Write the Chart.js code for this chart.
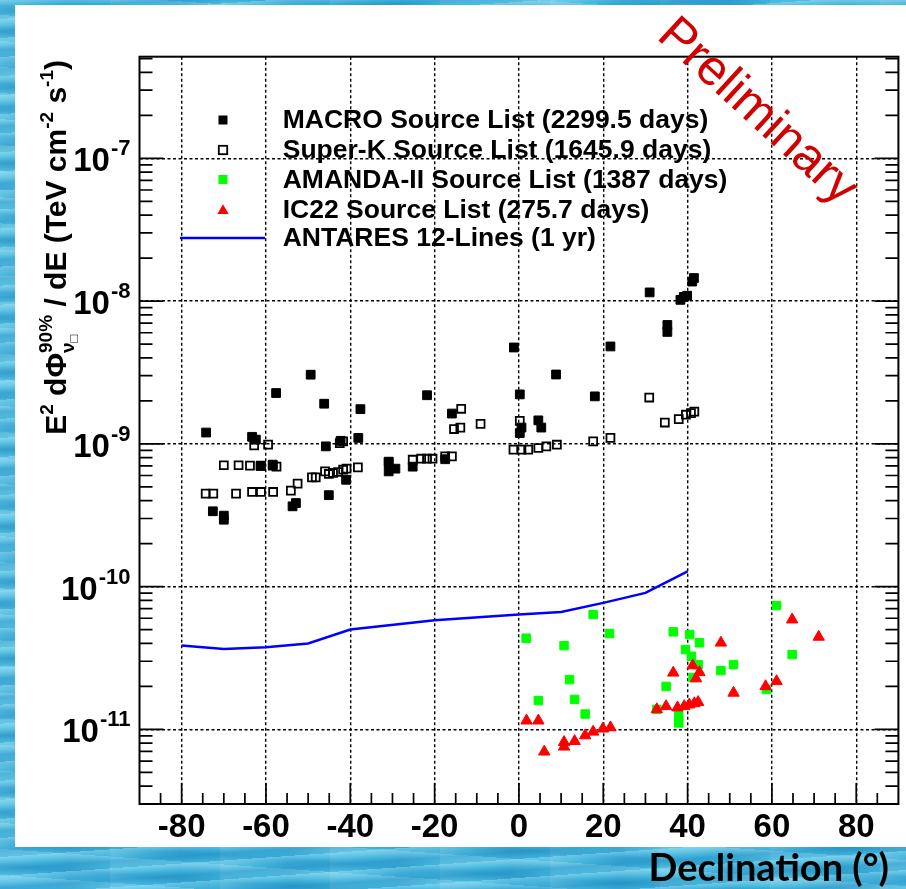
<!DOCTYPE html>
<html>
<head>
<meta charset="utf-8">
<script src="https://cdn.jsdelivr.net/npm/chart.js@4.4.1/dist/chart.umd.min.js"></script>
<style>
  html, body { margin: 0; padding: 0; }
  body {
    width: 906px; height: 889px; overflow: hidden; position: relative;
    background:
      repeating-linear-gradient(176deg, rgba(170,235,252,0.40) 0px, rgba(170,235,252,0) 7px, rgba(10,120,185,0.28) 12px, rgba(170,235,252,0) 19px),
      repeating-linear-gradient(184deg, rgba(255,255,255,0.20) 0px, rgba(255,255,255,0) 10px, rgba(0,100,165,0.20) 17px, rgba(255,255,255,0) 26px),
      repeating-linear-gradient(90deg, rgba(255,255,255,0.10) 0px, rgba(255,255,255,0) 40px, rgba(0,90,160,0.10) 70px, rgba(255,255,255,0) 110px),
      #45b8de;
  }
  #panel { position: absolute; left: 15px; top: 5px; width: 891px; height: 842px; background: #fff; }
  #c { position: absolute; left: 0; top: 0; }
  #xtitle {
    position: absolute; right: 17px; top: 847px; margin: 0;
    font: bold 38px Lato, "Open Sans", sans-serif; line-height: 38px; color: #000; white-space: nowrap;
  }
</style>
</head>
<body>
<div id="panel"></div>
<canvas id="c" width="906" height="889"></canvas>
<div id="xtitle">Declination (°)</div>
<script>
// ---- axis ranges and ticks ----
const X_MIN = -90, X_MAX = 90;
const Y_MIN = 3.0e-12, Y_MAX = 5.15e-7;
const xTickValues = [-80, -60, -40, -20, 0, 20, 40, 60, 80];
const yDecadeExponents = [-11, -10, -9, -8, -7];

// ---- MACRO source list (declination in degrees, E^2 dPhi/dE upper limit) ----
const macroDec = [-74.2, -63.3, -62.4, -57.6, -49.4, -46.2, -37.6, -21.8, -1.2, 0.2,
  -45.8, -42.3, -38.1, -15.9, 0.6, 0.2, -61.3, -58.4, -41.0, -45.1,
  -53.7, -52.9, -72.6, -70.0, -70.0, -30.9, -30.9, -29.3, -25.2, -17.5,
  8.8, 18.0, 21.7, 31.0, 35.2, 35.2, 38.3, 39.1, 39.9, 41.1, 41.5, 4.6, 5.3];
const macroFlux = [1.20e-9, 1.12e-9, 1.07e-9, 2.27e-9, 3.05e-9, 1.91e-9, 1.75e-9, 2.19e-9, 4.73e-9, 2.22e-9,
  9.6e-10, 1.05e-9, 1.10e-9, 1.63e-9, 1.30e-9, 1.19e-9, 7.0e-10, 7.15e-10, 5.6e-10, 4.37e-10,
  3.65e-10, 3.85e-10, 3.37e-10, 3.14e-10, 2.94e-10, 7.5e-10, 6.41e-10, 6.7e-10, 6.92e-10, 7.8e-10,
  3.06e-9, 2.15e-9, 4.81e-9, 1.15e-8, 6.8e-9, 6.08e-9, 1.02e-8, 1.07e-8, 1.09e-8, 1.37e-8, 1.45e-8, 1.46e-9, 1.30e-9];

// ---- Super-K source list ----
const superkDec = [-62.8, -59.5, -70.0, -66.5, -63.8, -61.2, -58.4, -57.5, -74.3, -72.5,
  -67.1, -63.3, -61.2, -58.3, -54.1, -52.5, -49.1, -48.2, -46.0, -45.1,
  -44.1, -42.9, -41.7, -40.9, -42.5, -41.7, -38.2, -30.9, -25.2, -23.2,
  -21.8, -20.5, -17.5, -15.9, -15.4, -13.9, -13.7, -9.1, 0.2, -1.3,
  0.6, 2.2, 4.6, 6.5, 9.0, 17.6, 21.7, 30.9, 34.6, 37.9, 39.6, 40.8, 41.6];
const superkFlux = [9.75e-10, 9.87e-10, 7.08e-10, 7.08e-10, 7.03e-10, 7.03e-10, 7.03e-10, 6.92e-10, 4.48e-10, 4.48e-10,
  4.48e-10, 4.6e-10, 4.6e-10, 4.6e-10, 4.70e-10, 5.26e-10, 5.82e-10, 5.82e-10, 6.41e-10, 6.15e-10,
  6.25e-10, 6.35e-10, 6.59e-10, 6.70e-10, 1.01e-9, 1.04e-9, 6.84e-10, 7.41e-10, 7.74e-10, 7.87e-10,
  7.87e-10, 7.87e-10, 8.17e-10, 8.17e-10, 1.27e-9, 1.30e-9, 1.76e-9, 1.38e-9, 1.45e-9, 9.1e-10,
  9.1e-10, 9.1e-10, 9.35e-10, 9.6e-10, 9.86e-10, 1.04e-9, 1.10e-9, 2.11e-9, 1.41e-9, 1.49e-9, 1.60e-9, 1.64e-9, 1.68e-9];

// ---- AMANDA-II source list ----
const amandaDec = [1.7, 10.7, 17.6, 21.5, 12.0, 4.6, 13.2, 15.7, 36.6, 40.5,
  42.8, 39.5, 40.9, 42.5, 41.3, 34.9, 32.7, 37.9, 37.9, 47.9, 50.9, 61.1, 64.8, 58.7];
const amandaFlux = [4.35e-11, 3.86e-11, 6.37e-11, 4.69e-11, 2.23e-11, 1.59e-11, 1.62e-11, 1.28e-11, 4.82e-11, 4.61e-11,
  4.04e-11, 3.62e-11, 3.25e-11, 2.84e-11, 2.31e-11, 2.0e-11, 1.38e-11, 1.25e-11, 1.11e-11, 2.58e-11, 2.84e-11, 7.36e-11, 3.34e-11, 1.90e-11];

// ---- IC22 source list ----
const ic22Dec = [1.8, 4.6, 6.0, 10.7, 10.7, 13.2, 15.7, 17.6, 19.9, 21.7,
  32.7, 34.9, 36.6, 37.6, 39.2, 40.4, 41.6, 42.5, 41.2, 42.8,
  42.0, 47.9, 50.9, 58.5, 61.1, 64.8, 71.1];
const ic22Flux = [1.15e-11, 1.15e-11, 6.97e-12, 8.13e-12, 7.55e-12, 8.26e-12, 9.05e-12, 9.61e-12, 1.01e-11, 1.03e-11,
  1.38e-11, 1.45e-11, 2.49e-11, 1.42e-11, 1.45e-11, 1.49e-11, 1.52e-11, 1.55e-11, 2.80e-11, 2.51e-11,
  2.27e-11, 4.04e-11, 1.80e-11, 2.00e-11, 2.17e-11, 5.87e-11, 4.44e-11];

// ---- ANTARES 12-line sensitivity curve ----
const antaresDec = [-80, -70, -60, -50, -40, -20, 0, 10, 20, 30, 40];
const antaresFlux = [3.86e-11, 3.66e-11, 3.76e-11, 3.99e-11, 5.0e-11, 5.81e-11, 6.37e-11, 6.65e-11, 7.69e-11, 9.03e-11, 1.28e-10];

// ---- texts ----
const seriesLabels = [
  'MACRO Source List (2299.5 days)',
  'Super-K Source List (1645.9 days)',
  'AMANDA-II Source List (1387 days)',
  'IC22 Source List (275.7 days)',
  'ANTARES 12-Lines (1 yr)'
];
const watermark = 'Preliminary';

const FONT = '"Liberation Sans", Arial, Helvetica, sans-serif';
const pairs = (xs, ys) => xs.map((v, i) => ({ x: v, y: ys[i] }));

// y axis title, written piece by piece (base text, superscripts, subscripts)
const yTitleRuns = [
  { t: 'E', k: 'big' },
  { t: '2', k: 'sup' },
  { t: ' d', k: 'big' },
  { t: 'Φ', k: 'big' },
  { stack: { sup: '90%', sub: 'ν', subsub: '□' } },
  { t: ' / dE (TeV cm', k: 'big' },
  { t: '-2', k: 'sup' },
  { t: ' s', k: 'big' },
  { t: '-1', k: 'sup' },
  { t: ')', k: 'big' }
];

// legend marker look (slightly smaller than the plotted markers)
const legendMarks = [
  { kind: 'rect', half: 4, fill: '#000', stroke: '#000', lw: 1 },
  { kind: 'rect', half: 4.2, fill: null, stroke: '#000', lw: 1.8 },
  { kind: 'rect', half: 4, fill: '#00ff00', stroke: '#00ff00', lw: 1 },
  { kind: 'tri', r: 6.5, fill: '#ff0000' },
  { kind: 'line', stroke: '#0000ff', lw: 2.5 }
];

const overlay = {
  id: 'overlay',
  afterDraw(chart) {
    const { ctx, chartArea: a, scales: { x, y } } = chart;
    ctx.save();

    // plot frame
    ctx.strokeStyle = '#000';
    ctx.lineWidth = 2;
    ctx.strokeRect(a.left, a.top, a.right - a.left, a.bottom - a.top);

    // inward ticks: log minor/major on left and right, 5-degree steps on bottom
    ctx.lineWidth = 1.7;
    ctx.beginPath();
    for (let e = -12; e <= -7; e++) {
      for (let m = 1; m <= 9; m++) {
        const v = m * Math.pow(10, e);
        if (v < Y_MIN * 0.999 || v > Y_MAX) continue;
        const py = y.getPixelForValue(v);
        const len = m === 1 ? 24 : 13;
        ctx.moveTo(a.left, py); ctx.lineTo(a.left + len, py);
        ctx.moveTo(a.right, py); ctx.lineTo(a.right - len, py);
      }
    }
    for (let v = -85; v <= 85; v += 5) {
      const px = x.getPixelForValue(v);
      const len = (v % 20 === 0) ? 21 : 11;
      ctx.moveTo(px, a.bottom); ctx.lineTo(px, a.bottom - len);
    }
    ctx.stroke();

    // y tick labels: 10 with a raised exponent
    ctx.fillStyle = '#000';
    ctx.textBaseline = 'middle';
    const labelRight = a.left - 9;
    yDecadeExponents.forEach(e => {
      const py = y.getPixelForValue(Math.pow(10, e));
      const expo = String(e);
      ctx.font = 'bold 22px ' + FONT;
      const ew = ctx.measureText(expo).width;
      ctx.textAlign = 'right';
      ctx.fillText(expo, labelRight, py - 9);
      ctx.font = 'bold 33px ' + FONT;
      ctx.fillText('10', labelRight - ew - 1, py + 4);
    });

    // y axis title, rotated, reading upwards and ending near the top of the frame
    const fonts = { big: 'bold 30px ' + FONT, sup: 'bold 19px ' + FONT, tiny: '13px ' + FONT };
    const shift = { big: 0, sup: -13 };
    const widthOf = (r) => {
      if (r.stack) {
        ctx.font = fonts.sup; const w1 = ctx.measureText(r.stack.sup).width;
        const w2 = ctx.measureText(r.stack.sub).width;
        ctx.font = fonts.tiny; const w3 = ctx.measureText(r.stack.subsub).width;
        return Math.max(w1, w2 + w3);
      }
      ctx.font = fonts[r.k]; return ctx.measureText(r.t).width;
    };
    const total = yTitleRuns.reduce((s, r) => s + widthOf(r), 0);
    const titleTop = 60;
    ctx.save();
    ctx.translate(66, titleTop + total);
    ctx.rotate(-Math.PI / 2);
    ctx.textAlign = 'left';
    ctx.textBaseline = 'alphabetic';
    let cx = 0;
    yTitleRuns.forEach(r => {
      const w = widthOf(r);
      if (r.stack) {
        ctx.font = fonts.sup;
        ctx.fillText(r.stack.sup, cx, -14);
        ctx.fillText(r.stack.sub, cx, 8);
        const w2 = ctx.measureText(r.stack.sub).width;
        ctx.font = fonts.tiny;
        ctx.fillText(r.stack.subsub, cx + w2, 12);
      } else {
        ctx.font = fonts[r.k];
        ctx.fillText(r.t, cx, shift[r.k]);
      }
      cx += w;
    });
    ctx.restore();

    // legend inside the frame
    const legendRows = [120, 150, 179.5, 209.3, 238];
    const markX = 223, textX = 282.7;
    chart.data.datasets.forEach((ds, i) => {
      const ly = legendRows[i];
      const m = legendMarks[i];
      ctx.save();
      if (m.kind === 'line') {
        ctx.strokeStyle = m.stroke; ctx.lineWidth = m.lw;
        ctx.beginPath(); ctx.moveTo(180, ly); ctx.lineTo(265, ly); ctx.stroke();
      } else if (m.kind === 'tri') {
        ctx.fillStyle = m.fill;
        ctx.beginPath();
        ctx.moveTo(markX, ly - m.r + 1.5);
        ctx.lineTo(markX + m.r * 0.866, ly + m.r * 0.5 + 1.5);
        ctx.lineTo(markX - m.r * 0.866, ly + m.r * 0.5 + 1.5);
        ctx.closePath(); ctx.fill();
      } else {
        if (m.fill) { ctx.fillStyle = m.fill; ctx.fillRect(markX - m.half, ly - m.half, 2 * m.half, 2 * m.half); }
        ctx.strokeStyle = m.stroke; ctx.lineWidth = m.lw;
        ctx.strokeRect(markX - m.half, ly - m.half, 2 * m.half, 2 * m.half);
      }
      ctx.restore();
      ctx.fillStyle = '#000';
      ctx.font = 'bold 26.5px ' + FONT;
      ctx.textAlign = 'left';
      ctx.textBaseline = 'middle';
      ctx.fillText(ds.label, textX, ly + 1);
    });

    // watermark
    ctx.save();
    ctx.translate(757, 112);
    ctx.rotate(42.5 * Math.PI / 180);
    ctx.fillStyle = '#d20000';
    ctx.font = '50px ' + FONT;
    ctx.textAlign = 'center';
    ctx.textBaseline = 'middle';
    ctx.fillText(watermark, 0, 0);
    ctx.restore();

    ctx.restore();
  }
};

new Chart(document.getElementById('c'), {
  type: 'scatter',
  data: {
    datasets: [
      { label: seriesLabels[0], data: pairs(macroDec, macroFlux), order: 4,
        pointStyle: 'rect', pointRadius: 6.2, backgroundColor: '#000', borderColor: '#000', borderWidth: 1 },
      { label: seriesLabels[1], data: pairs(superkDec, superkFlux), order: 3,
        pointStyle: 'rect', pointRadius: 5.6, backgroundColor: 'rgba(0,0,0,0)', borderColor: '#000', borderWidth: 1.8 },
      { label: seriesLabels[2], data: pairs(amandaDec, amandaFlux), order: 2,
        pointStyle: 'rect', pointRadius: 6.0, backgroundColor: '#00ff00', borderColor: '#00ff00', borderWidth: 1 },
      { label: seriesLabels[3], data: pairs(ic22Dec, ic22Flux), order: 1,
        pointStyle: 'triangle', pointRadius: 6.6, backgroundColor: '#ff0000', borderColor: '#ff0000', borderWidth: 1 },
      { label: seriesLabels[4], data: pairs(antaresDec, antaresFlux), order: 5, showLine: true,
        pointRadius: 0, borderColor: '#0000ff', borderWidth: 2.5, backgroundColor: '#0000ff', tension: 0 }
    ]
  },
  options: {
    responsive: false,
    animation: false,
    events: [],
    layout: { padding: { left: 0, right: 4.5, top: 56.7, bottom: 0 } },
    plugins: { legend: { display: false }, tooltip: { enabled: false } },
    scales: {
      x: {
        type: 'linear', min: X_MIN, max: X_MAX,
        afterBuildTicks: (s) => { s.ticks = xTickValues.map(v => ({ value: v })); },
        afterFit: (s) => { s.height = 85; },
        grid: { color: '#000', lineWidth: 1.4, drawTicks: false },
        border: { display: false, dash: [3, 2.5] },
        ticks: {
          padding: 4, color: '#000', maxRotation: 0, autoSkip: false,
          font: { family: FONT, size: 33, weight: 'bold' },
          callback: (v) => String(v)
        }
      },
      y: {
        type: 'logarithmic', min: Y_MIN, max: Y_MAX,
        afterBuildTicks: (s) => { s.ticks = yDecadeExponents.map(e => ({ value: Math.pow(10, e) })); },
        afterFit: (s) => { s.width = 139.5; },
        grid: { color: '#000', lineWidth: 1.4, drawTicks: false },
        border: { display: false, dash: [3, 2.5] },
        ticks: { display: false }
      }
    }
  },
  plugins: [overlay]
});
</script>
</body>
</html>
